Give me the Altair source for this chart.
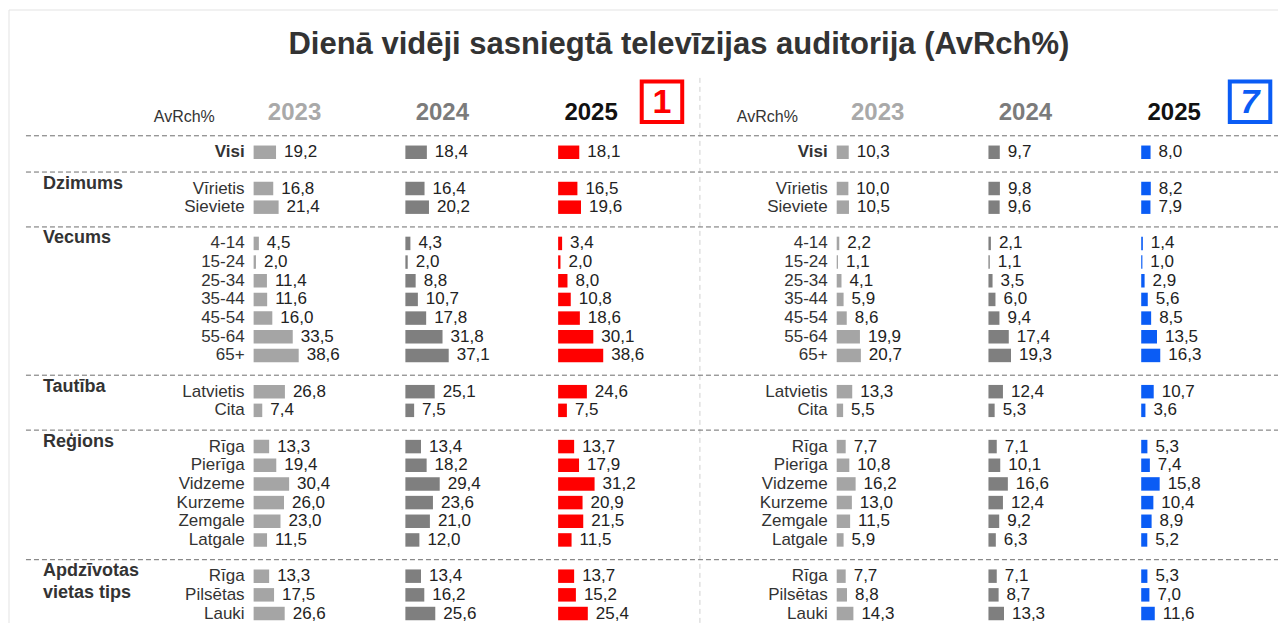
import altair as alt
import pandas as pd

# ---------------- data ----------------
categories = ["Visi", "Vīrietis", "Sieviete", "4-14", "15-24", "25-34", "35-44", "45-54",
              "55-64", "65+", "Latvietis", "Cita", "Rīga", "Pierīga", "Vidzeme", "Kurzeme",
              "Zemgale", "Latgale", "Rīga", "Pilsētas", "Lauki"]
groups = ["Visi", "Dzimums", "Dzimums", "Vecums", "Vecums", "Vecums", "Vecums", "Vecums",
          "Vecums", "Vecums", "Tautība", "Tautība", "Reģions", "Reģions", "Reģions", "Reģions",
          "Reģions", "Reģions", "Apdzīvotas vietas tips", "Apdzīvotas vietas tips",
          "Apdzīvotas vietas tips"]
group_titles = {"Dzimums": ["Dzimums"], "Vecums": ["Vecums"], "Tautība": ["Tautība"],
                "Reģions": ["Reģions"], "Apdzīvotas vietas tips": ["Apdzīvotas", "vietas tips"]}
years = ["2023", "2024", "2025"]

ltv1_2023 = [19.2, 16.8, 21.4, 4.5, 2.0, 11.4, 11.6, 16.0, 33.5, 38.6, 26.8, 7.4, 13.3, 19.4, 30.4, 26.0, 23.0, 11.5, 13.3, 17.5, 26.6]
ltv1_2024 = [18.4, 16.4, 20.2, 4.3, 2.0, 8.8, 10.7, 17.8, 31.8, 37.1, 25.1, 7.5, 13.4, 18.2, 29.4, 23.6, 21.0, 12.0, 13.4, 16.2, 25.6]
ltv1_2025 = [18.1, 16.5, 19.6, 3.4, 2.0, 8.0, 10.8, 18.6, 30.1, 38.6, 24.6, 7.5, 13.7, 17.9, 31.2, 20.9, 21.5, 11.5, 13.7, 15.2, 25.4]
ltv7_2023 = [10.3, 10.0, 10.5, 2.2, 1.1, 4.1, 5.9, 8.6, 19.9, 20.7, 13.3, 5.5, 7.7, 10.8, 16.2, 13.0, 11.5, 5.9, 7.7, 8.8, 14.3]
ltv7_2024 = [9.7, 9.8, 9.6, 2.1, 1.1, 3.5, 6.0, 9.4, 17.4, 19.3, 12.4, 5.3, 7.1, 10.1, 16.6, 12.4, 9.2, 6.3, 7.1, 8.7, 13.3]
ltv7_2025 = [8.0, 8.2, 7.9, 1.4, 1.0, 2.9, 5.6, 8.5, 13.5, 16.3, 10.7, 3.6, 5.3, 7.4, 15.8, 10.4, 8.9, 5.2, 5.3, 7.0, 11.6]

title_text = "Dienā vidēji sasniegtā televīzijas auditorija (AvRch%)"
unit_text = "AvRch%"
channel_marks = ["1", "7"]

# ---------------- layout (chart coordinates, px) ----------------
W, H = 1271, 616
O = 8
FONT = "Liberation Sans"
K = 1.17            # px per percentage point
DX = 584            # shift of right panel
BAR_H = 13.5
panels = [("ltv1", 0, [ltv1_2023, ltv1_2024, ltv1_2025]),
          ("ltv7", DX, [ltv7_2023, ltv7_2024, ltv7_2025])]
bar_base = [253 - O, 405 - O, 558 - O]
label_right = 244 - O
year_center = [294 - O, 442 - O, 591 - O]

# row positions
row_y, line_y = [], [136 - O]
cur = line_y[0]
prev = None
y = None
for i, g in enumerate(groups):
    if g != prev:
        if prev is not None:
            cur = y + 19.8
            line_y.append(cur)
        y = cur + 16.5
    else:
        y = y + 18.7
    row_y.append(y)
    prev = g

bars, labels = [], []
for pname, dx, series in panels:
    for j, yr in enumerate(years):
        for i, v in enumerate(series[j]):
            x0 = bar_base[j] + dx
            x1 = x0 + v * K
            key = yr if yr != "2025" else f"{pname}-2025"
            bars.append(dict(x0=x0, x1=x1, y0=row_y[i] - BAR_H / 2, y1=row_y[i] + BAR_H / 2,
                             key=key, lx=x1 + 8, y=row_y[i],
                             txt=f"{v:.1f}".replace(".", ",")))
    for i, c in enumerate(categories):
        labels.append(dict(x=label_right + dx, y=row_y[i], txt=c, bold=(c == "Visi")))

bars = pd.DataFrame(bars)
labels = pd.DataFrame(labels)

glabels = []
for g, lines in group_titles.items():
    first = row_y[groups.index(g)]
    for k, t in enumerate(lines):
        glabels.append(dict(x=42 - O, y=first - 5 + k * 22, txt=t))
glabels = pd.DataFrame(glabels)

heads = []
for dx in (0, DX):
    for j, yr in enumerate(years):
        heads.append(dict(x=year_center[j] + dx, y=120 - O, txt=yr))
heads = pd.DataFrame(heads)

units = pd.DataFrame([dict(x=153 - O, y=122 - O, txt=unit_text),
                      dict(x=153 - O + DX, y=122 - O, txt=unit_text)])

hlines = pd.DataFrame(dict(y=line_y, x0=[25 - O] * len(line_y), x1=[W] * len(line_y)))

logos = pd.DataFrame([dict(x=662 - O, y=102 - O, txt=channel_marks[0], ch="ltv1"),
                      dict(x=1251 - O, y=102 - O, txt=channel_marks[1], ch="ltv7")])

X = lambda f: alt.X(f, type="quantitative", scale=alt.Scale(domain=[0, W], nice=False, zero=False), axis=None)
Y = lambda f: alt.Y(f, type="quantitative", scale=alt.Scale(domain=[0, H], nice=False, zero=False, reverse=True), axis=None)

bar_colors = alt.Scale(domain=["2023", "2024", "ltv1-2025", "ltv7-2025"],
                       range=["#a5a5a5", "#7f7f7f", "#ff0000", "#0a5cf5"])
year_colors = alt.Scale(domain=years, range=["#a9a9a9", "#7b7b7b", "#111111"])
logo_colors = alt.Scale(domain=["ltv1", "ltv7"], range=["#ff0000", "#0a5cf5"])

frame = pd.DataFrame(dict(x0=[0], x1=[W], y0=[2], y1=[H]))

layers = [
    # card frame (left + top edges)
    alt.Chart(frame).mark_rule(color="#e3e3e3", strokeWidth=1).encode(x=X("x0"), y=Y("y0"), y2="y1"),
    alt.Chart(frame).mark_rule(color="#e3e3e3", strokeWidth=1).encode(x=X("x0"), x2="x1", y=Y("y0")),
    # vertical separator
    alt.Chart(pd.DataFrame(dict(x=[700 - O], y0=[78 - O], y1=[H]))).mark_rule(
        color="#d0d0d0", strokeDash=[5, 4], strokeWidth=1).encode(x=X("x"), y=Y("y0"), y2="y1"),
    # horizontal dashed separators
    alt.Chart(hlines).mark_rule(color="#6e6e6e", strokeDash=[5, 3], strokeWidth=1).encode(
        x=X("x0"), x2="x1", y=Y("y")),
    # title
    alt.Chart(pd.DataFrame([dict(x=679 - O, y=45 - O, txt=title_text)])).mark_text(
        font=FONT, fontSize=31, fontWeight="bold", color="#333333", baseline="middle", align="center"
    ).encode(x=X("x"), y=Y("y"), text="txt:N"),
    # units
    alt.Chart(units).mark_text(font=FONT, fontSize=16, color="#333333", align="left", baseline="alphabetic").encode(
        x=X("x"), y=Y("y"), text="txt:N"),
    # year headers
    alt.Chart(heads).mark_text(font=FONT, fontSize=24, fontWeight="bold", align="center", baseline="alphabetic").encode(
        x=X("x"), y=Y("y"), text="txt:N", color=alt.Color("txt:N", scale=year_colors, legend=None)),
    # logos
    alt.Chart(logos).mark_point(shape="square", filled=False, size=1640, strokeWidth=4, opacity=1).encode(
        x=X("x"), y=Y("y"), color=alt.Color("ch:N", scale=logo_colors, legend=None)),
    alt.Chart(logos).transform_filter("datum.ch == 'ltv1'").mark_text(
        font=FONT, fontSize=34, fontWeight="bold", baseline="middle", align="center", dy=1).encode(
        x=X("x"), y=Y("y"), text="txt:N", color=alt.Color("ch:N", scale=logo_colors, legend=None)),
    alt.Chart(logos).transform_filter("datum.ch == 'ltv7'").mark_text(
        font=FONT, fontSize=34, fontWeight="bold", fontStyle="italic", baseline="middle", align="center", dy=1).encode(
        x=X("x"), y=Y("y"), text="txt:N", color=alt.Color("ch:N", scale=logo_colors, legend=None)),
    # bars
    alt.Chart(bars).mark_rect().encode(
        x=X("x0"), x2="x1", y=Y("y0"), y2="y1",
        color=alt.Color("key:N", scale=bar_colors, legend=None)),
    # values
    alt.Chart(bars).mark_text(font=FONT, fontSize=17, color="#222222", align="left", baseline="middle").encode(
        x=X("lx"), y=Y("y"), text="txt:N"),
    # row labels
    alt.Chart(labels).transform_filter("!datum.bold").mark_text(
        font=FONT, fontSize=17, color="#333333", align="right", baseline="middle").encode(
        x=X("x"), y=Y("y"), text="txt:N"),
    alt.Chart(labels).transform_filter("datum.bold").mark_text(
        font=FONT, fontSize=17, fontWeight="bold", color="#333333", align="right", baseline="middle").encode(
        x=X("x"), y=Y("y"), text="txt:N"),
    # group labels
    alt.Chart(glabels).mark_text(font=FONT, fontSize=18, fontWeight="bold", color="#333333",
                                 align="left", baseline="middle").encode(
        x=X("x"), y=Y("y"), text="txt:N"),
]

chart = alt.layer(*layers).resolve_scale(color="independent").properties(
    width=W, height=H,
    autosize=alt.AutoSizeParams(type="fit", contains="padding"),
    padding=0,
).configure_view(stroke=None)

chart.save("out.html", embed_options={"renderer": "svg", "actions": False})
